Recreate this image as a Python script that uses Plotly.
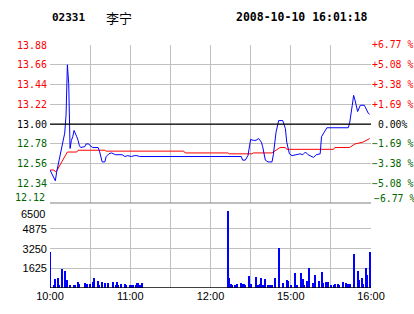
import plotly.graph_objects as go

# ---------------- data ----------------
stock_code = "02331"
stock_name = "李宁"
stamp = "2008-10-10 16:01:18"
prev_close = 13.00

price_times = ["10:00", "10:02", "10:04", "10:05", "10:07", "10:09", "10:10", "10:11", "10:12", "10:13",
               "10:14", "10:15", "10:16", "10:17", "10:18", "10:19", "10:20", "10:21", "10:22", "10:23",
               "10:26", "10:27", "10:29", "10:30", "10:32", "10:36", "10:37", "10:39", "10:41", "10:42",
               "10:44", "10:46", "10:49", "10:54", "10:56", "10:58", "11:01", "11:03", "11:05", "11:07",
               "12:23", "12:24", "12:26", "12:28", "14:30", "14:32", "14:34", "14:36", "14:38", "14:39",
               "14:41", "14:43", "14:46", "14:47", "14:49", "14:51", "14:54", "14:56", "14:57", "14:59",
               "15:01", "15:04", "15:07", "15:09", "15:11", "15:13", "15:16", "15:17", "15:19", "15:22",
               "15:23", "15:26", "15:27", "15:43", "15:44", "15:46", "15:47", "15:48", "15:49", "15:50",
               "15:52", "15:55", "15:56", "15:58", "15:59"]
price_values = [12.49, 12.42, 12.37, 12.47, 12.62, 12.75, 12.82, 12.90, 13.10, 13.66,
                13.45, 12.73, 12.82, 12.86, 12.93, 12.90, 12.86, 12.82, 12.76, 12.74,
                12.75, 12.78, 12.78, 12.76, 12.74, 12.74, 12.70, 12.58, 12.58, 12.64,
                12.67, 12.68, 12.66, 12.66, 12.64, 12.65, 12.64, 12.65, 12.65, 12.64,
                12.64, 12.60, 12.60, 12.65, 12.83, 12.82, 12.82, 12.84, 12.80, 12.75,
                12.60, 12.58, 12.58, 12.66, 12.91, 13.04, 13.04, 12.95, 12.80, 12.67,
                12.65, 12.66, 12.67, 12.66, 12.69, 12.66, 12.64, 12.63, 12.66, 12.67,
                12.86, 12.93, 12.96, 12.96, 13.01, 13.21, 13.32, 13.27, 13.20, 13.14,
                13.21, 13.21, 13.18, 13.12, 13.11]

avg_times = ["10:00", "10:03", "10:04", "10:05", "10:08", "10:11", "10:13", "10:20", "10:21", "10:41",
             "10:42", "11:40", "11:41", "12:13", "12:14", "14:31", "14:32", "14:46", "14:49", "14:52",
             "14:56", "14:57", "15:32", "15:33", "15:44", "15:48", "15:54", "15:59"]
avg_values = [12.49, 12.49, 12.47, 12.48, 12.56, 12.64, 12.69, 12.69, 12.71, 12.71,
              12.70, 12.70, 12.68, 12.68, 12.67, 12.67, 12.68, 12.68, 12.71, 12.74,
              12.74, 12.72, 12.72, 12.74, 12.74, 12.78, 12.80, 12.84]

vol_times = ["10:00", "10:03", "10:04", "10:06", "10:07", "10:09", "10:11", "10:13", "10:15", "10:18",
             "10:19", "10:21", "10:22", "10:26", "10:27", "10:28", "10:30", "10:32", "10:33", "10:36",
             "10:37", "10:39", "10:41", "10:43", "10:47", "10:49", "10:50", "10:51", "10:53", "10:56",
             "10:57", "11:00", "11:01", "11:02", "11:04", "11:05", "11:06", "11:07", "11:09",
             "12:13", "12:14", "12:15", "12:16", "12:18", "12:19", "12:20", "12:23", "12:24", "12:25",
             "12:26", "12:29", "14:30", "14:34", "14:35", "14:36", "14:37", "14:38", "14:39", "14:41",
             "14:43", "14:44", "14:45", "14:46", "14:48", "14:51", "14:54", "14:57", "14:58", "15:00",
             "15:03", "15:05", "15:08", "15:09", "15:10", "15:12", "15:14", "15:17", "15:18", "15:21",
             "15:23", "15:24", "15:26", "15:27", "15:28", "15:30", "15:32", "15:33", "15:35", "15:36",
             "15:39", "15:41", "15:42", "15:43", "15:44", "15:47", "15:50", "15:51", "15:53", "15:54",
             "15:56", "15:57", "15:59"]
vol_values = [2990, 190, 685, 770, 190, 1510, 1340, 600, 190, 190,
              190, 490, 270, 360, 190, 270, 270, 440, 770, 520,
              190, 440, 360, 360, 440, 190, 440, 190, 270, 270,
              190, 190, 190, 190, 190, 360, 360, 190, 410,
              6360, 770, 270, 190, 190, 190, 270, 360, 270, 270,
              190, 930, 270, 850, 190, 190, 270, 770, 190, 685,
              190, 190, 190, 190, 770, 3320, 360, 600, 520, 190,
              1180, 190, 1180, 685, 190, 520, 1590, 360, 1010, 520,
              1260, 360, 440, 270, 440, 190, 190, 270, 270, 190,
              440, 360, 190, 270, 270, 2820, 1340, 600, 770, 270,
              1590, 1010, 2990]

price_ticks = [12.12, 12.34, 12.56, 12.78, 13.00, 13.22, 13.44, 13.66, 13.88]
pct_labels = ["−6.77 %", "−5.08 %", "−3.38 %", "−1.69 %", " 0.00%", "+1.69 %", "+3.38 %", "+5.08 %", "+6.77 %"]
vol_ticks = [1625, 3250, 4875, 6500]
time_grid = ["10:00", "10:30", "11:00", "11:30", "12:00", "12:30", "15:00", "15:30", "16:00"]
time_labels = ["10:00", "", "11:00", "", "12:00", "", "15:00", "", "16:00"]

RED = "#ff0000"
GREEN = "#006400"
BLUE = "#0000ff"
GRID = "#c0c0c0"

# plot frame in pixels (figure 414 x 314)
L, R, T, B = 50, 43, 45, 26
PW, PH = 414 - L - R, 314 - T - B


def tmin(t):
    h, m = map(int, t.split(":"))
    mins = h * 60 + m
    if mins <= 12 * 60 + 30:
        return mins - 600
    return mins - (14 * 60 + 30) + 150


def col(v):
    if abs(v - prev_close) < 1e-9:
        return "#000000"
    return RED if v > prev_close else GREEN


px = [tmin(t) for t in price_times]
ax = [tmin(t) for t in avg_times]
vx = [tmin(t) for t in vol_times]
gx = [tmin(t) for t in time_grid]

left_text = [f'<span style="color:{col(v)}">{v:.2f}</span>' for v in price_ticks]
right_text = [f'<span style="color:{col(v)}">{s}</span>' for v, s in zip(price_ticks, pct_labels)]
vol_text = [str(v) for v in vol_ticks]
# the edge labels that sit at the seam between panels are drawn separately, nudged inward
low_left, low_right = left_text[0], right_text[0]
left_text[0] = ""
right_text[0] = ""
top_vol = vol_text[-1]
vol_text[-1] = ""

fig = go.Figure()
fig.add_trace(go.Scatter(x=ax, y=avg_values, mode="lines", line=dict(color=RED, width=1),
                         xaxis="x", yaxis="y", hoverinfo="skip", showlegend=False))
fig.add_trace(go.Scatter(x=px, y=price_values, mode="lines", line=dict(color=BLUE, width=1),
                         xaxis="x", yaxis="y", showlegend=False))
fig.add_trace(go.Scatter(x=[0, 240], y=[prev_close, prev_close], mode="lines",
                         line=dict(width=0, color="rgba(0,0,0,0)"),
                         xaxis="x", yaxis="y3", hoverinfo="skip", showlegend=False))
fig.add_trace(go.Bar(x=vx, y=vol_values, width=0.75, marker=dict(color=BLUE, line=dict(width=0)),
                     xaxis="x2", yaxis="y2", showlegend=False))

price_bottom_px = 203.3
vol_top_px = 209.3
top_dom = (T + PH - price_bottom_px) / PH
vol_dom = (T + PH - vol_top_px) / PH

common_x = dict(range=[0, 240], tickvals=gx, showgrid=True, gridcolor=GRID, gridwidth=1,
                zeroline=False, showline=False, ticks="", fixedrange=True, automargin=False)
mono_r = dict(family="DejaVu Sans Mono", size=9.8)
fig.update_layout(
    template="none",
    width=414, height=314,
    margin=dict(l=L, r=R, t=T, b=B, pad=0),
    paper_bgcolor="white", plot_bgcolor="white",
    bargap=0,
    xaxis=dict(**common_x, anchor="y", showticklabels=False),
    xaxis2=dict(**common_x, anchor="y2", ticktext=time_labels, showticklabels=True,
                tickfont=dict(family="Liberation Sans", size=11, color="black")),
    yaxis=dict(domain=[top_dom, 1], range=[price_ticks[0], price_ticks[-1]], tickvals=price_ticks,
               ticktext=left_text, showgrid=True, gridcolor=GRID, zeroline=False, ticks="",
               showline=False, automargin=False,
               tickfont=dict(family="DejaVu Sans Mono", size=10), ticklabelstandoff=2),
    yaxis3=dict(overlaying="y", side="right", anchor="x", range=[price_ticks[0], price_ticks[-1]],
                tickvals=price_ticks, ticktext=right_text, showgrid=False, zeroline=False, ticks="",
                showline=False, automargin=False, tickfont=mono_r, ticklabelstandoff=0),
    yaxis2=dict(domain=[0, vol_dom], range=[0, 6500], tickvals=vol_ticks, ticktext=vol_text,
                showgrid=True, gridcolor=GRID, zeroline=False, ticks="", anchor="x2",
                showline=False, automargin=False,
                tickfont=dict(family="Liberation Sans", size=11, color="black"), ticklabelstandoff=2),
)

# black reference lines
fig.add_shape(type="line", xref="x", yref="y", x0=0, x1=240, y0=prev_close, y1=prev_close,
              line=dict(color="black", width=1.3))
fig.add_shape(type="line", xref="x", yref="y", x0=0, x1=240, y0=price_ticks[0], y1=price_ticks[0],
              line=dict(color="black", width=1.3))
fig.add_shape(type="line", xref="x2", yref="y2", x0=0, x1=240, y0=0, y1=0,
              line=dict(color="black", width=1.3))


def ypaper(ypx):
    return (T + PH - ypx) / PH


mono10 = dict(family="DejaVu Sans Mono", size=10)
fig.add_annotation(xref="paper", yref="paper", x=-3 / PW, y=ypaper(197.5), xanchor="right", yanchor="middle",
                   text=low_left, showarrow=False, font=mono10)
fig.add_annotation(xref="paper", yref="paper", x=1 + 0.5 / PW, y=ypaper(198.5), xanchor="left", yanchor="middle",
                   text=low_right, showarrow=False, font=mono_r)
fig.add_annotation(xref="paper", yref="paper", x=-3 / PW, y=ypaper(213.5), xanchor="right", yanchor="middle",
                   text=top_vol, showarrow=False, font=dict(family="Liberation Sans", size=11, color="black"))

ytitle = ypaper(17)
fig.add_annotation(xref="paper", yref="paper", x=0, y=ytitle, xanchor="left", yanchor="middle",
                   text=f"<b>{stock_code}</b>", showarrow=False,
                   font=dict(family="DejaVu Sans Mono", size=11, color="black"))
fig.add_annotation(xref="paper", yref="paper", x=(104 - L) / PW, y=ytitle, xanchor="left", yanchor="middle",
                   text=stock_name, showarrow=False,
                   font=dict(family="Noto Sans CJK SC", size=13, color="black"))
fig.add_annotation(xref="paper", yref="paper", x=(369.5 - L) / PW, y=ytitle, xanchor="right", yanchor="middle",
                   text=f"<b>{stamp}</b>", showarrow=False,
                   font=dict(family="DejaVu Sans Mono", size=11.5, color="black"))

fig.write_html("out.html")
